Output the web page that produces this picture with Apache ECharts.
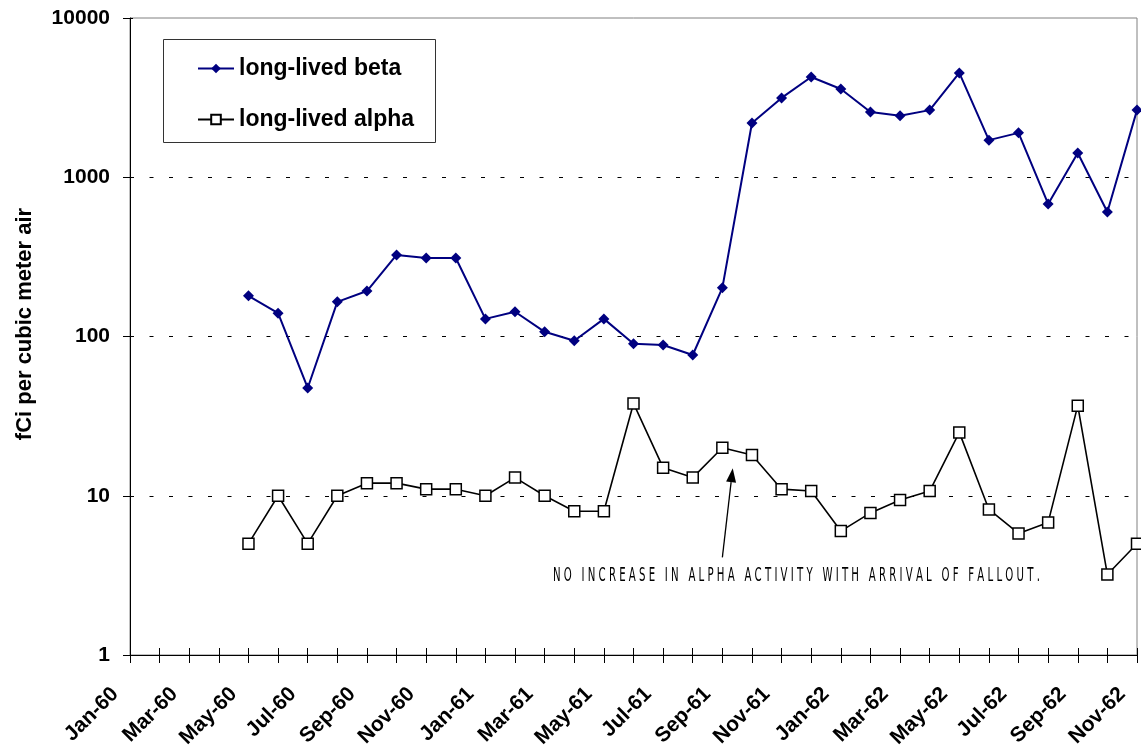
<!DOCTYPE html>
<html>
<head>
<meta charset="utf-8">
<script src="https://cdn.jsdelivr.net/npm/echarts@6/dist/echarts.min.js"></script>
<style>
  html, body { margin: 0; padding: 0; background: #ffffff; }
  #chart { width: 1141px; height: 749px; }
</style>
</head>
<body>
<div id="chart"></div>
<script>
// Monthly sampling periods (tick labels on the category axis)
const months = [
  'Jan-60','Feb-60','Mar-60','Apr-60','May-60','Jun-60','Jul-60','Aug-60','Sep-60','Oct-60','Nov-60','Dec-60',
  'Jan-61','Feb-61','Mar-61','Apr-61','May-61','Jun-61','Jul-61','Aug-61','Sep-61','Oct-61','Nov-61','Dec-61',
  'Jan-62','Feb-62','Mar-62','Apr-62','May-62','Jun-62','Jul-62','Aug-62','Sep-62','Oct-62','Nov-62'
];

// Long-lived beta activity, fCi per cubic meter of air (no samples before May-60)
const beta = [
  null, null, null, null,
  180, 140, 47.5, 165, 193, 325, 311, 311,
  129, 143, 107, 94, 129, 90, 88.5, 76.5, 202, 2190, 3150, 4260,
  3580, 2570, 2430, 2640, 4520, 1710, 1900, 680, 1420, 605, 2640
];

// Long-lived alpha activity, fCi per cubic meter of air
const alpha = [
  null, null, null, null,
  5, 10, 5, 10, 12, 12, 11, 11,
  10, 13, 10, 8, 8, 38, 15, 13, 20, 18, 11, 10.7,
  6, 7.8, 9.4, 10.7, 25, 8.2, 5.8, 6.8, 36.8, 3.2, 5
];

// Decade ticks of the logarithmic value axis
const yTicks = [1, 10, 100, 1000, 10000];

const seriesNames = ['long-lived beta', 'long-lived alpha'];
const yTitle = 'fCi per cubic meter air';
const note = 'NO INCREASE IN ALPHA ACTIVITY WITH ARRIVAL OF FALLOUT.';

// Annotation anchors in data space: [fractional month index, value]
const noteAnchor = [14.28, 3.13];
const arrowTail = [20.0, 4.1];
const arrowTip = [20.35, 14.9];

const FONT = '"Liberation Sans", Arial, sans-serif';

const chart = echarts.init(document.getElementById('chart'), null, { renderer: 'canvas' });

const option = {
  animation: false,
  backgroundColor: '#ffffff',
  grid: {
    left: 130,
    right: 4,
    top: 18,
    bottom: 94,
    show: true,
    borderColor: '#808080',
    borderWidth: 1,
    backgroundColor: 'transparent',
    containLabel: false,
    outerBoundsMode: 'none'
  },
  legend: {
    data: seriesNames,
    orient: 'vertical',
    left: 197,
    top: 57,
    padding: 0,
    itemWidth: 36,
    itemHeight: 12,
    itemGap: 28,
    textStyle: { fontFamily: FONT, fontWeight: 'bold', fontSize: 23, color: '#000', lineHeight: 23 }
  },
  xAxis: [
    {
      type: 'category',
      data: months,
      boundaryGap: false,
      position: 'bottom',
      axisLine: { show: true, lineStyle: { color: '#000', width: 1 } },
      axisTick: { show: true, interval: 0, length: 8, lineStyle: { color: '#000' } },
      axisLabel: {
        interval: 1,
        rotate: 45,
        margin: 21,
        padding: [0, 21, 0, 0],
        fontFamily: FONT,
        fontWeight: 'bold',
        fontSize: 21,
        color: '#000'
      },
      splitLine: { show: false }
    },
    {
      // inner half of the crossing tick marks
      type: 'category',
      data: months,
      boundaryGap: false,
      position: 'bottom',
      axisLine: { show: false },
      axisTick: { show: true, inside: true, interval: 0, length: 7, lineStyle: { color: '#000' } },
      axisLabel: { show: false },
      splitLine: { show: false }
    }
  ],
  yAxis: [
    {
      type: 'log',
      logBase: 10,
      min: 1,
      max: 10000,
      position: 'left',
      axisLine: { show: true, lineStyle: { color: '#000', width: 1 } },
      axisTick: { show: true, length: 7, lineStyle: { color: '#000' } },
      minorTick: { show: false },
      axisLabel: {
        margin: 20,
        fontFamily: FONT,
        fontWeight: 'bold',
        fontSize: 21,
        color: '#000',
        formatter: function (v) { return yTicks.indexOf(Math.round(v)) >= 0 ? String(Math.round(v)) : ''; }
      },
      splitLine: {
        show: true,
        showMinLine: false,
        showMaxLine: false,
        lineStyle: { color: '#000', width: 1, type: [4, 15.5] }
      }
    },
    {
      type: 'log',
      logBase: 10,
      min: 1,
      max: 10000,
      position: 'left',
      axisLine: { show: false },
      axisTick: { show: true, inside: true, length: 3, lineStyle: { color: '#000' } },
      axisLabel: { show: false },
      splitLine: { show: false }
    }
  ],
  series: [
    {
      name: seriesNames[0],
      type: 'line',
      data: beta,
      xAxisIndex: 0,
      yAxisIndex: 0,
      clip: false,
      symbol: 'diamond',
      symbolSize: 11,
      color: '#000080',
      lineStyle: { color: '#000080', width: 2 },
      itemStyle: { color: '#000080', borderWidth: 0 },
      z: 3
    },
    {
      name: seriesNames[1],
      type: 'line',
      data: alpha,
      xAxisIndex: 0,
      yAxisIndex: 0,
      clip: false,
      symbol: 'rect',
      symbolSize: 11,
      color: '#000000',
      lineStyle: { color: '#000', width: 1.6 },
      itemStyle: { color: '#ffffff', borderColor: '#000', borderWidth: 1.5 },
      z: 3
    }
  ]
};

chart.setOption(option);

// Pixel position of a [fractional month index, value] pair
function toPixel(pt) {
  const i0 = Math.floor(pt[0]);
  const f = pt[0] - i0;
  const a = chart.convertToPixel({ xAxisIndex: 0, yAxisIndex: 0 }, [i0, pt[1]]);
  const b = chart.convertToPixel({ xAxisIndex: 0, yAxisIndex: 0 }, [Math.min(i0 + 1, months.length - 1), pt[1]]);
  return [a[0] + (b[0] - a[0]) * f, a[1]];
}

// Legend frame, axis title and the annotation with its arrow
function spaced(text) {
  return text.split(' ').map(function (w) { return w.split('').join(' '); }).join('   ');
}
const noteText = spaced(note);
const noteFont = '20px "DejaVu Sans Condensed", "DejaVu Sans", sans-serif';
const ctx = document.createElement('canvas').getContext('2d');
ctx.font = noteFont;
const noteWidth = ctx.measureText(noteText).width;
const noteScale = 487 / noteWidth;

const pNote = toPixel(noteAnchor);
const pTail = toPixel(arrowTail);
const pTip = toPixel(arrowTip);

const dx = pTip[0] - pTail[0], dy = pTip[1] - pTail[1];
const len = Math.sqrt(dx * dx + dy * dy);
const ux = dx / len, uy = dy / len;
const headLen = 14, headHalf = 5;
const bx = pTip[0] - ux * headLen, by = pTip[1] - uy * headLen;

chart.setOption({
  graphic: [
    {
      type: 'rect',
      shape: { x: 163.5, y: 39.5, width: 272, height: 103 },
      style: { fill: 'transparent', stroke: '#333', lineWidth: 1 },
      z: 1
    },
    {
      type: 'text',
      x: 25,
      y: 324,
      rotation: Math.PI / 2,
      style: {
        text: yTitle,
        fontFamily: FONT,
        fontWeight: 'bold',
        fontSize: 22,
        fill: '#000',
        align: 'center',
        verticalAlign: 'middle'
      }
    },
    {
      type: 'text',
      x: pNote[0],
      y: pNote[1],
      scaleX: noteScale,
      style: {
        x: 0,
        y: 0,
        text: noteText,
        font: noteFont,
        fill: '#000',
        align: 'left',
        verticalAlign: 'middle'
      }
    },
    {
      type: 'line',
      shape: { x1: pTail[0], y1: pTail[1], x2: bx, y2: by },
      style: { stroke: '#000', lineWidth: 1.3 }
    },
    {
      type: 'polygon',
      shape: {
        points: [
          [pTip[0], pTip[1]],
          [bx - uy * headHalf, by + ux * headHalf],
          [bx + uy * headHalf, by - ux * headHalf]
        ]
      },
      style: { fill: '#000' }
    }
  ]
});
</script>
</body>
</html>
